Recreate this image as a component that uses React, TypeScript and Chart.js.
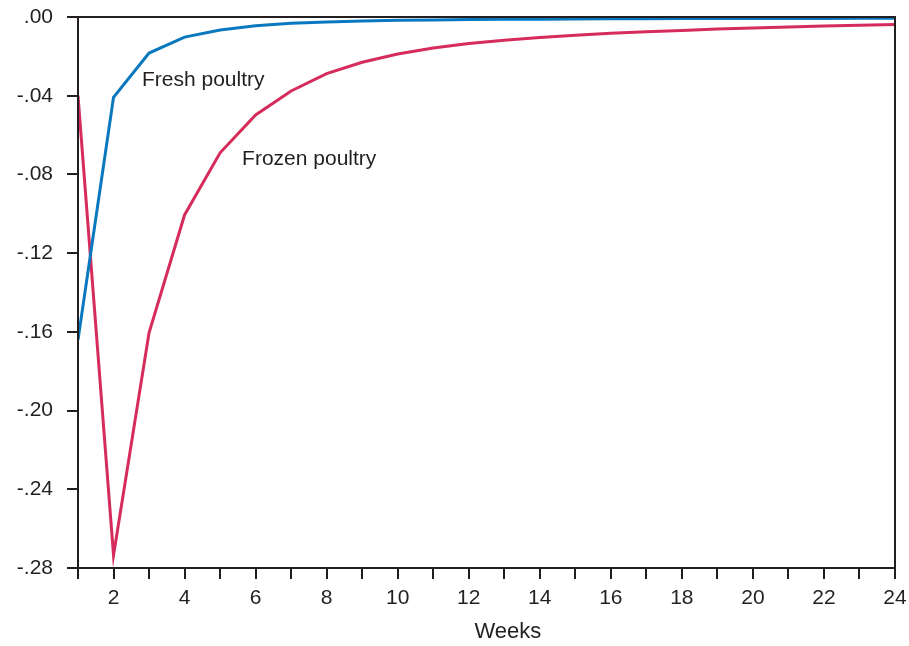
import React, { useEffect, useRef } from "react";
import { Chart, registerables } from "chart.js";

Chart.register(...registerables);

const weeks = [1, 2, 3, 4, 5, 6, 7, 8, 9, 10, 11, 12, 13, 14, 15, 16, 17, 18, 19, 20, 21, 22, 23, 24];
const freshPoultry = [-0.164, -0.0408, -0.0183, -0.0102, -0.0066, -0.0044, -0.0032, -0.0025, -0.002, -0.0017, -0.0015, -0.0013, -0.0012, -0.0011, -0.001, -0.0009, -0.0009, -0.0008, -0.0008, -0.0007, -0.0007, -0.0007, -0.0006, -0.0006];
const frozenPoultry = [-0.04, -0.2735, -0.1605, -0.1006, -0.069, -0.0498, -0.0376, -0.0288, -0.023, -0.0188, -0.0158, -0.0135, -0.0118, -0.0104, -0.0093, -0.0083, -0.0075, -0.0068, -0.0061, -0.0056, -0.0051, -0.0046, -0.0042, -0.0038];
const seriesNames = ["Fresh poultry", "Frozen poultry"];
const labelAnchors = [
  { x: 2.8, y: -0.0353 },
  { x: 5.62, y: -0.0752 },
];
const xTitle = "Weeks";
const xTitleAt = 13.1;

const INK = "#231f20";
const FONT = "'Liberation Sans', Arial, Helvetica, sans-serif";

function fmtY(v: number): string {
  let s = (Math.round(v * 100) / 100).toFixed(2);
  if (s === "-0.00") s = "0.00";
  return s.replace("0.", ".");
}

export default function App() {
  const ref = useRef<HTMLCanvasElement | null>(null);

  useEffect(() => {
    if (!ref.current) return;
    const framePlugin = {
      id: "frameAndText",
      afterDatasetsDraw(chart: any) {
        const { ctx, chartArea, scales } = chart;
        ctx.save();
        ctx.strokeStyle = INK;
        ctx.lineWidth = 2;
        ctx.strokeRect(chartArea.left, chartArea.top, chartArea.right - chartArea.left, chartArea.bottom - chartArea.top);
        ctx.fillStyle = INK;
        ctx.font = `21px ${FONT}`;
        ctx.textAlign = "left";
        ctx.textBaseline = "alphabetic";
        seriesNames.forEach((name, i) => {
          const a = labelAnchors[i];
          ctx.fillText(name, scales.x.getPixelForValue(a.x), scales.y.getPixelForValue(a.y));
        });
        ctx.font = `22px ${FONT}`;
        ctx.textAlign = "center";
        ctx.fillText(xTitle, scales.x.getPixelForValue(xTitleAt), chartArea.bottom + 70);
        ctx.restore();
      },
    };

    const chart = new Chart(ref.current, {
      type: "line",
      data: {
        datasets: [
          {
            label: seriesNames[0],
            data: weeks.map((w, i) => ({ x: w, y: freshPoultry[i] })),
            borderColor: "#0a78be",
            borderWidth: 3,
            pointRadius: 0,
            tension: 0,
          },
          {
            label: seriesNames[1],
            data: weeks.map((w, i) => ({ x: w, y: frozenPoultry[i] })),
            borderColor: "#d62c5c",
            borderWidth: 3,
            pointRadius: 0,
            tension: 0,
          },
        ],
      },
      options: {
        animation: false,
        responsive: false,
        devicePixelRatio: 1,
        layout: { padding: { left: 0, right: 14, top: 17, bottom: 0 } },
        plugins: { legend: { display: false }, tooltip: { enabled: false }, title: { display: false } },
        scales: {
          x: {
            type: "linear",
            min: 1,
            max: 24,
            border: { display: false },
            grid: { drawOnChartArea: false, drawTicks: true, tickLength: 11, color: INK, lineWidth: 2 },
            ticks: {
              stepSize: 1,
              autoSkip: false,
              maxRotation: 0,
              padding: 7,
              color: INK,
              font: { family: FONT, size: 21 },
              callback: (v: any) => (Number(v) % 2 === 0 ? String(v) : ""),
            },
            afterFit: (s: any) => {
              s.height = 78;
              s.paddingLeft = 0;
              s.paddingRight = 0;
              s.paddingTop = 0;
              s.paddingBottom = 0;
            },
          },
          y: {
            type: "linear",
            min: -0.28,
            max: 0,
            border: { display: false },
            grid: { drawOnChartArea: false, drawTicks: true, tickLength: 11, color: INK, lineWidth: 2 },
            ticks: {
              stepSize: 0.04,
              padding: 14,
              color: INK,
              font: { family: FONT, size: 21 },
              callback: (v: any) => fmtY(Number(v)),
            },
            afterFit: (s: any) => {
              s.width = 78;
              s.paddingLeft = 0;
              s.paddingRight = 0;
              s.paddingTop = 0;
              s.paddingBottom = 0;
            },
          },
        },
      },
      plugins: [framePlugin],
    } as any);
    return () => chart.destroy();
  }, []);

  return (
    <div style={{ position: "absolute", left: 0, top: 0, width: 909, height: 646, background: "#fff" }}>
      <canvas ref={ref} width={909} height={646} style={{ width: 909, height: 646, display: "block" }} />
    </div>
  );
}
